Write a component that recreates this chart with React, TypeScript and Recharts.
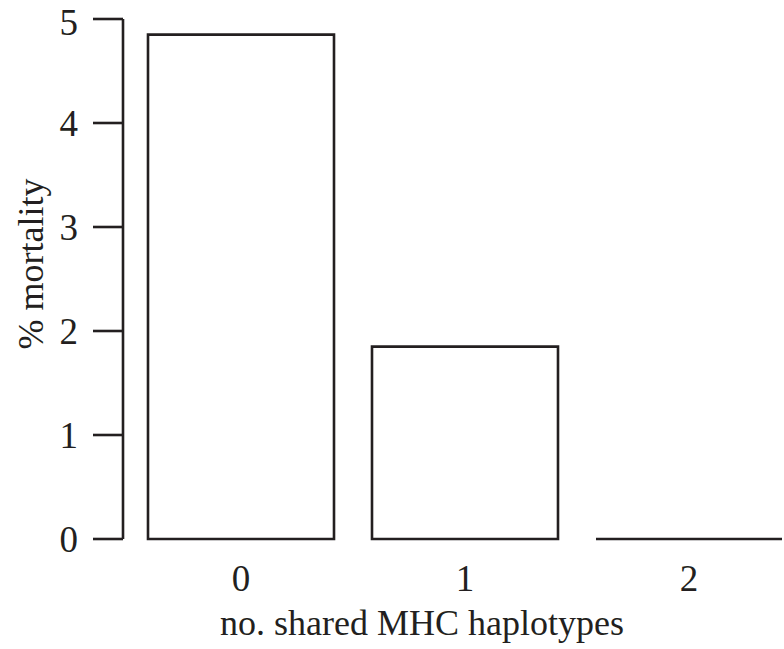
import { BarChart, Bar, XAxis, YAxis, Label } from "recharts"

const haplotypes = ["0", "1", "2"]
const mortality = [4.85, 1.85, 0]
const yTicks = [0, 1, 2, 3, 4, 5]

const data = haplotypes.map((h, i) => ({ shared: h, mortality: mortality[i] }))

const ink = "#231f20"
const serif = "'Liberation Serif', 'Times New Roman', serif"

const BarShape = (props: any) => {
  const { x, y, width, height } = props
  const d = `M${x},${y + height}L${x},${y}L${x + width},${y}L${x + width},${y + height}Z`
  return <path d={d} fill="#fff" stroke={ink} strokeWidth={2.6} />
}

const XTick = (props: any) => {
  const { x, y, payload } = props
  return (
    <text x={x} y={y + 52} textAnchor="middle" fontSize={37} fontFamily={serif} fill={ink}>
      {payload.value}
    </text>
  )
}

export default function App() {
  return (
    <div style={{ position: "absolute", left: 0, top: 0, width: 784, height: 649, overflow: "hidden", background: "#fff" }}>
      <BarChart
        width={810}
        height={649}
        data={data}
        margin={{ top: 19, right: 9, bottom: 0, left: 0 }}
        barSize={186}
      >
        <XAxis
          dataKey="shared"
          axisLine={false}
          tickLine={false}
          tickSize={0}
          tickMargin={0}
          padding={{ left: 6, right: 0 }}
          height={110}
          tick={<XTick />}
        >
          <Label
            content={() => (
              <text x={422} y={635} textAnchor="middle" fontSize={36} fontFamily={serif} fill={ink}>
                no. shared MHC haplotypes
              </text>
            )}
          />
        </XAxis>
        <YAxis
          type="number"
          domain={[0, 5]}
          ticks={yTicks}
          width={123}
          tickSize={30}
          tickMargin={15}
          axisLine={{ stroke: ink, strokeWidth: 2.6 }}
          tickLine={{ stroke: ink, strokeWidth: 2.6 }}
          tick={{ fill: ink, fontSize: 37, fontFamily: serif }}
        >
          <Label
            content={() => (
              <text
                x={43}
                y={264}
                transform="rotate(-90 43 264)"
                textAnchor="middle"
                fontSize={36}
                fontFamily={serif}
                fill={ink}
              >
                % mortality
              </text>
            )}
          />
        </YAxis>
        <Bar dataKey="mortality" isAnimationActive={false} shape={<BarShape />} />
      </BarChart>
    </div>
  )
}
